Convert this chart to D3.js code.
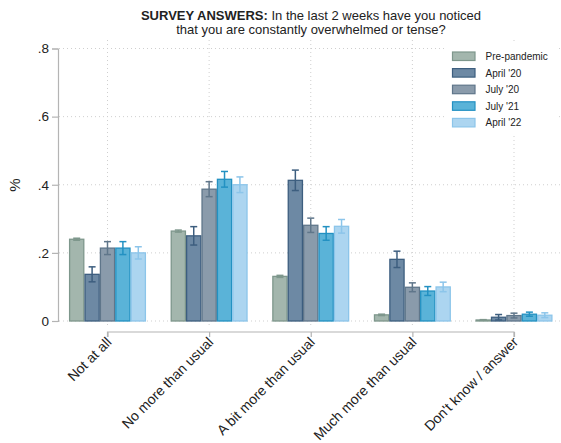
<!DOCTYPE html>
<html>
<head>
<meta charset="utf-8">
<script src="https://cdn.jsdelivr.net/npm/d3@7"></script>
<style>
  html, body { margin: 0; padding: 0; background: #fff; }
  svg { display: block; font-family: "Liberation Sans", Arial, Helvetica, sans-serif; }
</style>
</head>
<body>
<svg id="chart" width="561" height="443"></svg>
<script>
// Answer categories along the x axis
const categories = ["Not at all", "No more than usual", "A bit more than usual", "Much more than usual", "Don't know / answer"];
// Survey waves (one bar per wave within each category)
const waves = ["Pre-pandemic", "April '20", "July '20", "July '21", "April '22"];

// Share of respondents per wave, in category order
const prePandemic = [0.240, 0.264, 0.131, 0.018, 0.003];
const april20     = [0.137, 0.250, 0.413, 0.181, 0.011];
const july20      = [0.214, 0.387, 0.281, 0.099, 0.016];
const july21      = [0.214, 0.416, 0.257, 0.088, 0.020];
const april22     = [0.200, 0.400, 0.278, 0.100, 0.017];

// Confidence interval half-widths per wave
const errPre   = [0.003, 0.003, 0.003, 0.002, 0.001];
const errApr20 = [0.022, 0.027, 0.030, 0.024, 0.008];
const errJul20 = [0.019, 0.022, 0.021, 0.013, 0.007];
const errJul21 = [0.019, 0.023, 0.020, 0.013, 0.006];
const errApr22 = [0.018, 0.023, 0.020, 0.014, 0.007];

const yTicks = [0, 0.2, 0.4, 0.6, 0.8];
const yTickLabels = ["0", ".2", ".4", ".6", ".8"];

const seriesValues = [prePandemic, april20, july20, july21, april22];
const seriesErrors = [errPre, errApr20, errJul20, errJul21, errApr22];
const fills   = ["#a3b6ad", "#6d89a4", "#8a9bab", "#5ab3d8", "#acd5f0"];
const strokes = ["#7e978c", "#3d5e7f", "#5f768a", "#2391c2", "#8cc5ea"];

const svg = d3.select("#chart");
const plot = { left: 58, right: 561, top: 48.5, bottom: 321 };

const y = d3.scaleLinear().domain([0, 0.8]).range([plot.bottom, plot.top]);
const x = d3.scalePoint().domain(categories).range([107.5, 514]);
const xs = d3.scaleBand().domain(waves).range([-38.5, 38.5]).padding(0);

// Horizontal gridlines
svg.append("g").selectAll("line").data(yTicks).join("line")
  .attr("x1", plot.left + 1).attr("x2", plot.right)
  .attr("y1", d => y(d)).attr("y2", d => y(d))
  .attr("stroke", "#cfcfcf").attr("stroke-width", 1)
  .attr("stroke-dasharray", "1,3");

// Vertical gridlines at category positions
svg.append("g").selectAll("line").data(categories).join("line")
  .attr("x1", d => x(d)).attr("x2", d => x(d))
  .attr("y1", 40).attr("y2", plot.bottom + 6)
  .attr("stroke", "#cfcfcf").attr("stroke-width", 1)
  .attr("stroke-dasharray", "1,3");

// Bars
const rows = [];
categories.forEach((c, i) => {
  waves.forEach((w, j) => {
    rows.push({ cat: c, wave: w, j, v: seriesValues[j][i], e: seriesErrors[j][i] });
  });
});

const barG = svg.append("g");
barG.selectAll("rect").data(rows).join("rect")
  .attr("x", d => x(d.cat) + xs(d.wave) + 0.6)
  .attr("width", xs.bandwidth() - 1.2)
  .attr("y", d => y(d.v))
  .attr("height", d => y(0) - y(d.v))
  .attr("fill", d => fills[d.j])
  .attr("stroke", d => strokes[d.j])
  .attr("stroke-width", 1.3);

// Error bars
const errG = svg.append("g");
rows.forEach(d => {
  const cx = x(d.cat) + xs(d.wave) + xs.bandwidth() / 2;
  const g = errG.append("g").attr("stroke", strokes[d.j]).attr("stroke-width", 1.5);
  g.append("line").attr("x1", cx).attr("x2", cx).attr("y1", y(d.v + d.e)).attr("y2", y(d.v - d.e));
  g.append("line").attr("x1", cx - 3.5).attr("x2", cx + 3.5).attr("y1", y(d.v + d.e)).attr("y2", y(d.v + d.e));
  g.append("line").attr("x1", cx - 3.5).attr("x2", cx + 3.5).attr("y1", y(d.v - d.e)).attr("y2", y(d.v - d.e));
});

// Y axis
const yAxis = d3.axisLeft(y).tickValues(yTicks).tickFormat((d, i) => yTickLabels[i]).tickSize(6).tickPadding(3);
const yg = svg.append("g").attr("transform", `translate(${plot.left},0)`).call(yAxis);
yg.select(".domain").attr("stroke", "#b4b4b4").attr("stroke-width", 1.2);
yg.selectAll(".tick line").attr("stroke", "#b4b4b4").attr("stroke-width", 1.2);
yg.selectAll(".tick text").attr("fill", "#222").attr("font-size", "13.5px")
  .attr("font-family", "'Liberation Sans', Arial, sans-serif");

// Y axis title
svg.append("text")
  .attr("transform", "translate(20,185) rotate(-90)")
  .attr("text-anchor", "middle")
  .attr("font-size", "15px").attr("fill", "#222")
  .text("%");

// X axis (offset below plot)
const xAxis = d3.axisBottom(x).tickSize(5).tickSizeOuter(0).tickFormat("");
const xg = svg.append("g").attr("transform", "translate(0,332)").call(xAxis);
xg.select(".domain").attr("stroke", "#b4b4b4").attr("stroke-width", 1.2)
  .attr("d", `M${x(categories[0])},5V0H${x(categories[categories.length - 1])}V5`);
xg.selectAll(".tick line").attr("stroke", "#b4b4b4").attr("stroke-width", 1.2);

// Category labels, rotated
svg.append("g").selectAll("text").data(categories).join("text")
  .attr("transform", d => `translate(${x(d) + 5},${343}) rotate(-45)`)
  .attr("text-anchor", "end")
  .attr("font-size", "14px").attr("fill", "#222")
  .text(d => d);

// Title
const title = svg.append("text").attr("text-anchor", "middle").attr("font-size", "13px").attr("fill", "#222");
const t1 = title.append("tspan").attr("x", 311).attr("y", 19.5);
t1.append("tspan").attr("font-weight", "bold").text("SURVEY ANSWERS:");
t1.append("tspan").text(" In the last 2 weeks have you noticed");
title.append("tspan").attr("x", 311).attr("y", 33.5).text("that you are constantly overwhelmed or tense?");

// Legend
const lg = svg.append("g");
lg.append("rect").attr("x", 445).attr("y", 44).attr("width", 113).attr("height", 92).attr("fill", "#fff");
waves.forEach((w, j) => {
  const yy = 52 + j * 16.6;
  lg.append("rect").attr("x", 452.5).attr("y", yy).attr("width", 22.5).attr("height", 8.5)
    .attr("fill", fills[j]).attr("stroke", strokes[j]).attr("stroke-width", 1.2);
  lg.append("text").attr("x", 485.5).attr("y", yy + 8).attr("font-size", "10px").attr("fill", "#222").text(w);
});
</script>
</body>
</html>
